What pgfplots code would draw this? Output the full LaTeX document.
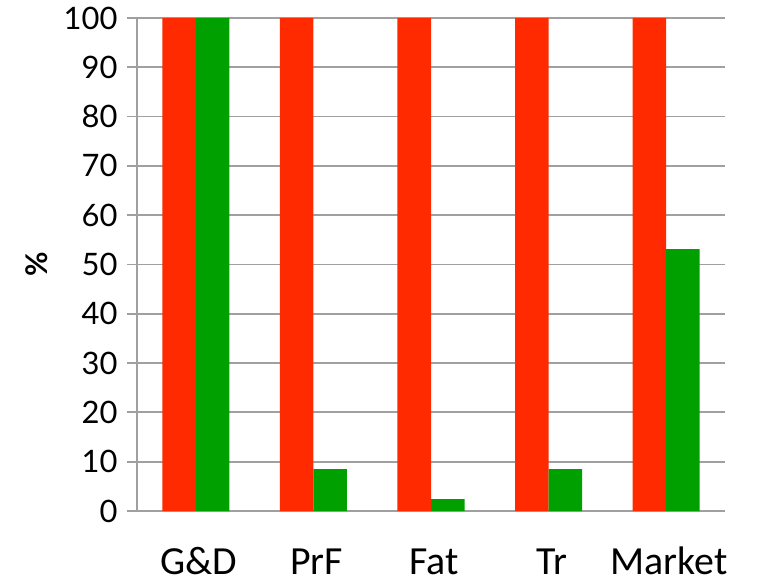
\documentclass[border=0pt]{standalone}
\usepackage{fontspec}
\setmainfont{Carlito}
\newfontfamily\tickfont{Lato}
\usepackage{pgfplots}
\pgfplotsset{compat=1.18}
\definecolor{barred}{HTML}{FF2A00}
\definecolor{bargreen}{HTML}{00A000}
\definecolor{gridgray}{HTML}{A0A0A0}
\begin{document}
\begin{tikzpicture}
\begin{axis}[
  scale only axis,
  width=588bp, height=493bp,
  xmin=-0.5, xmax=4.5,
  ymin=0, ymax=100,
  ytick={0,10,...,100},
  xtick={0,1,2,3,4},
  xticklabels={G\&D,PrF,Fat,Tr,Market},
  /pgf/number format/assume math mode=true,
  ymajorgrids,
  grid style={gridgray, line width=1.8bp},
  axis x line*=bottom,
  axis y line*=left,
  x axis line style={gridgray, line width=1.8bp, -},
  y axis line style={gridgray, line width=1.8bp, -},
  major x tick style={draw=none},
  major y tick style={gridgray, line width=1.8bp},
  tick align=outside,
  major tick length=10bp,
  yticklabel style={font=\tickfont\fontsize{31}{32}\selectfont, anchor=east, xshift=-6bp},
  xticklabel style={font=\fontsize{40}{42}\selectfont, anchor=base, yshift=-53bp, xshift=3bp},
  ylabel={\textbf{\%}},
  ylabel style={font=\tickfont\bfseries\fontsize{30}{32}\selectfont, at={(axis description cs:-0.17,0.5)}, anchor=center},
  ybar=0pt,
  bar width=0.285,
  clip=false,
]
\addplot[fill=barred, draw=none] coordinates {(0,100) (1,100) (2,100) (3,100) (4,100)};
\addplot[fill=bargreen, draw=none] coordinates {(0,100) (1,8.5) (2,2.4) (3,8.5) (4,53.1)};
\end{axis}
\path[use as bounding box] (-137bp,-73bp) rectangle (623bp,511bp);
\end{tikzpicture}
\end{document}
